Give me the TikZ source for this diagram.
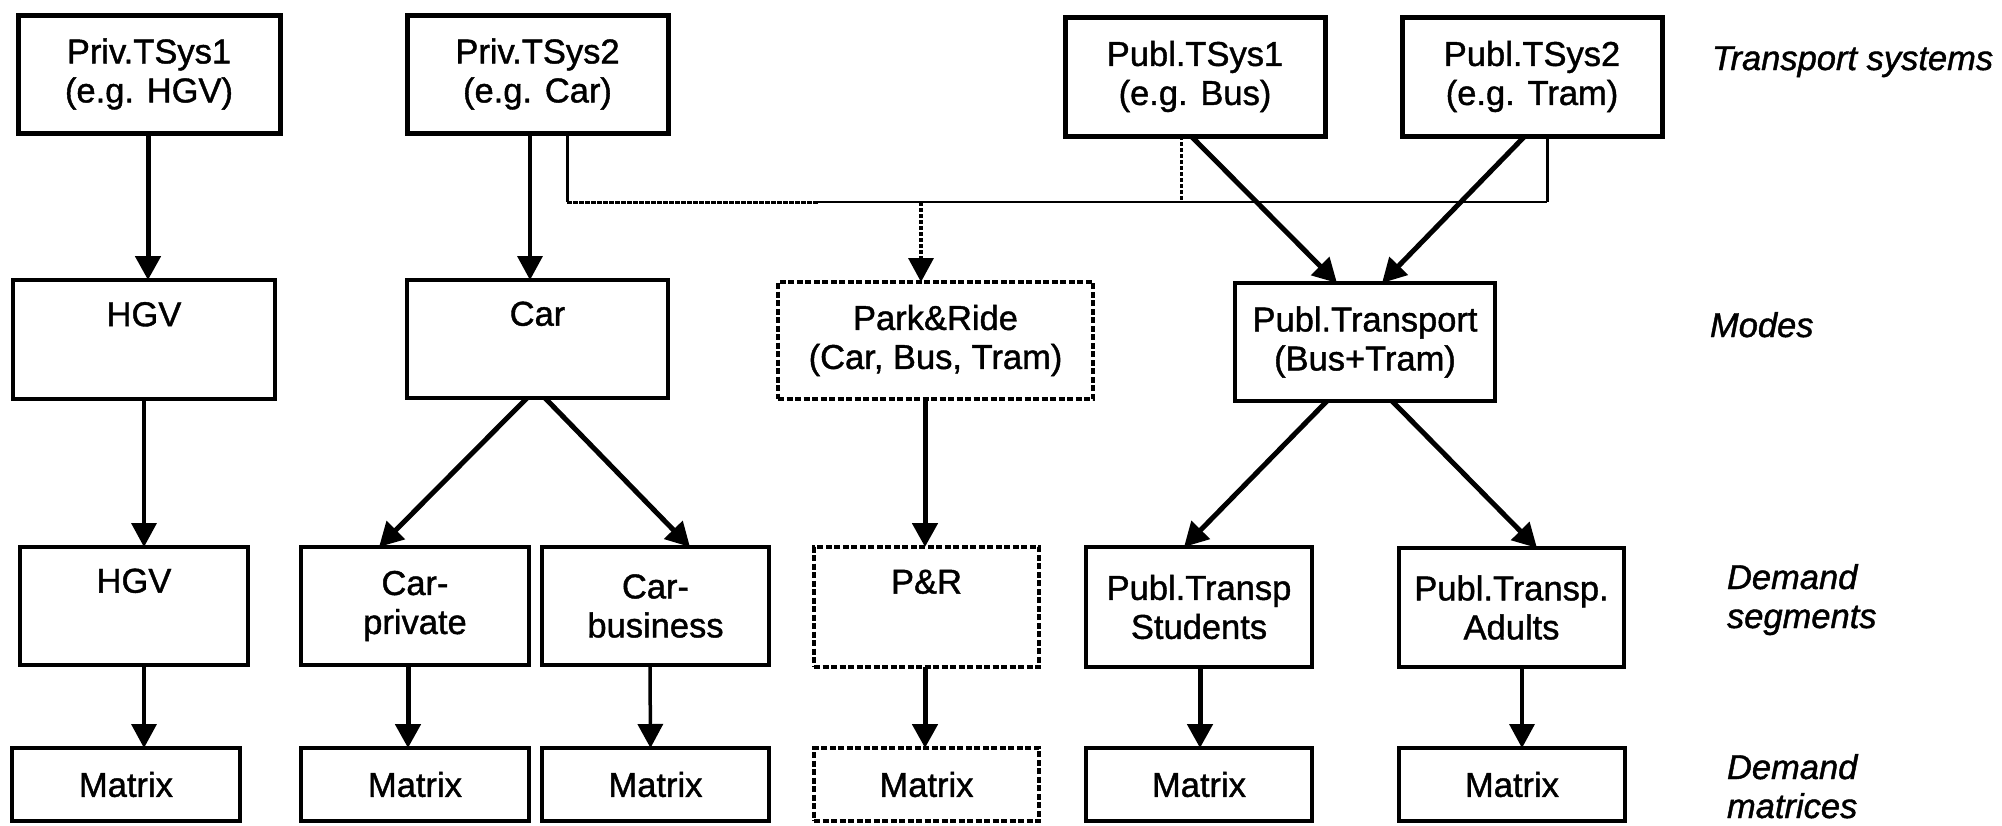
\documentclass[tikz,border=0pt]{standalone}
\usepackage{fontspec}
\setmainfont[FakeBold=1.2]{Liberation Sans}
\usetikzlibrary{arrows.meta}
\begin{document}
\begin{tikzpicture}[x=1pt,y=-1pt,
  every node/.style={font=\fontsize{34.5}{39}\selectfont, inner sep=0pt, outer sep=0pt},
  box/.style={draw, line width=4pt, anchor=north west, align=center},
  topbox/.style={box, line width=5pt},
  dbox/.style={box, dash pattern=on 6pt off 2.5pt},
  lab/.style={anchor=base west, align=left, font=\fontsize{34.5}{39}\selectfont\itshape},
  arr/.style={-{Triangle[length=24pt,width=25pt]}, line width=5pt},
  arrthin/.style={arr, line width=3.5pt},
  link/.style={line width=3pt}
]
\useasboundingbox (0,0) rectangle (2002,825);

% transport systems
\node[topbox, minimum width=262pt, minimum height=118pt] (t1) at (18,15)   {Priv.TSys1\\(e.g. HGV)};
\node[topbox, minimum width=261pt, minimum height=118pt] (t2) at (407,15)  {Priv.TSys2\\(e.g. Car)};
\node[topbox, minimum width=260pt, minimum height=119pt] (t3) at (1065,17) {Publ.TSys1\\(e.g. Bus)};
\node[topbox, minimum width=260pt, minimum height=119pt] (t4) at (1402,17) {Publ.TSys2\\(e.g. Tram)};

% modes
\node[box,  minimum width=262pt, minimum height=119pt] (m1) at (13,280)   {HGV\\\strut};
\node[box,  minimum width=261pt, minimum height=118pt] (m2) at (407,280)  {Car\\\strut};
\node[dbox, minimum width=315pt, minimum height=117pt] (m3) at (778,282)  {Park\&Ride\\(Car, Bus, Tram)};
\node[box,  minimum width=260pt, minimum height=118pt] (m4) at (1235,283) {Publ.Transport\\(Bus+Tram)};

% demand segments
\node[box,  minimum width=228pt, minimum height=118pt] (s1) at (20,547)   {HGV\\\strut};
\node[box,  minimum width=228pt, minimum height=118pt] (s2) at (301,547)  {Car-\\private};
\node[box,  minimum width=227pt, minimum height=118pt] (s3) at (542,547)  {Car-\\business};
\node[dbox, minimum width=225pt, minimum height=120pt] (s4) at (814,547)  {P\&R\\\strut};
\node[box,  minimum width=226pt, minimum height=120pt] (s5) at (1086,547) {Publ.Transp\\Students};
\node[box,  minimum width=225pt, minimum height=119pt] (s6) at (1399,548) {Publ.Transp.\\Adults};

% demand matrices
\node[box,  minimum width=228pt, minimum height=73pt] (x1) at (12,748)   {Matrix};
\node[box,  minimum width=228pt, minimum height=73pt] (x2) at (301,748)  {Matrix};
\node[box,  minimum width=227pt, minimum height=73pt] (x3) at (542,748)  {Matrix};
\node[dbox, minimum width=225pt, minimum height=73pt] (x4) at (814,748)  {Matrix};
\node[box,  minimum width=226pt, minimum height=73pt] (x5) at (1086,748) {Matrix};
\node[box,  minimum width=226pt, minimum height=73pt] (x6) at (1399,748) {Matrix};

% level captions (base anchor sits on the last line)
\node[lab] (l1) at (1712,70)  {Transport systems};
\node[lab] (l2) at (1710,337) {Modes};
\node[lab] (l3) at (1727,628) {Demand\\segments};
\node[lab] (l4) at (1727,818) {Demand\\matrices};

% collector line feeding Park&Ride
\coordinate (jl) at (567,202);
\coordinate (jm) at (818,202);
\coordinate (jp) at (921,202);
\coordinate (jb) at (1181,202);
\coordinate (jr) at (1547,202);
\draw[link] ([xshift=29.5pt]t2.south) -- (jl);
\draw[link, dash pattern=on 5pt off 1pt] (jl) -- (jm);
\draw[line width=2.5pt] (jm) -- (jr);
\draw[link] ([xshift=15pt]t4.south) -- (jr);
\draw[link, dash pattern=on 4pt off 2pt] ([xshift=-14pt]t3.south) -- (jb);
\draw[arrthin, dash pattern=on 4pt off 2pt] (jp) -- ([xshift=-14.5pt]m3.north);

% transport systems to modes
\draw[arr]     ([xshift=-1pt]t1.south)   -- ([xshift=4pt]m1.north);
\draw[arrthin] ([xshift=-7.5pt]t2.south) -- ([xshift=-7.5pt]m2.north);
\draw[arr]     ([xshift=-4pt]t3.south)   -- ([xshift=-28pt]m4.north);
\draw[arr]     ([xshift=-7pt]t4.south)   -- ([xshift=17pt]m4.north);

% modes to demand segments
\draw[arrthin] (m1.south) -- ([xshift=10pt]s1.north);
\draw[arr] ([xshift=-10.5pt]m2.south) -- ([xshift=-36pt]s2.north);
\draw[arr] ([xshift=7.5pt]m2.south)   -- ([xshift=34.5pt]s3.north);
\draw[arr] ([xshift=-10.5pt]m3.south) -- ([xshift=-1.5pt]s4.north);
\draw[arr] ([xshift=-38pt]m4.south)   -- ([xshift=-15pt]s5.north);
\draw[arr] ([xshift=27pt]m4.south)    -- ([xshift=25.5pt]s6.north);

% demand segments to matrices
\draw[arrthin] ([xshift=10pt]s1.south)   -- ([xshift=18pt]x1.north);
\draw[arr]     ([xshift=-7pt]s2.south)   -- ([xshift=-7pt]x2.north);
\draw[arrthin] ([xshift=-5.5pt]s3.south) -- ([xshift=-5pt]x3.north);
\draw[arr]     ([xshift=-1.5pt]s4.south) -- ([xshift=-1.5pt]x4.north);
\draw[arr]     ([xshift=1pt]s5.south)    -- ([xshift=1pt]x5.north);
\draw[arrthin] ([xshift=10.5pt]s6.south) -- ([xshift=10pt]x6.north);
\end{tikzpicture}
\end{document}
